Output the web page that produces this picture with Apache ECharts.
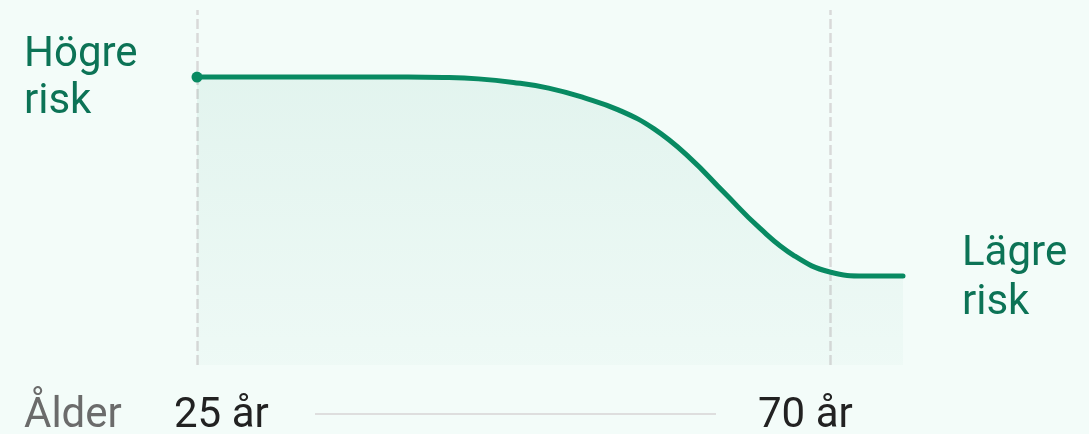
<!DOCTYPE html>
<html>
<head>
<meta charset="utf-8">
<script src="https://cdn.jsdelivr.net/npm/echarts@6/dist/echarts.min.js"></script>
<style>
html,body{margin:0;padding:0;background:#f3fcf9;}
#chart{width:1089px;height:434px;}
</style>
</head>
<body>
<div id="chart"></div>
<script>
// Data
var ages = [25, 30, 35, 40, 42.5, 45, 47.5, 50, 52.5, 55, 57.5, 60, 62.5, 65, 67.5, 70, 72.5, 75.2];
var risk = [81.1, 81.1, 81.1, 81.1, 81.0, 80.6, 79.6, 78.0, 75.3, 71.8, 66.5, 58.5, 48.5, 38.6, 30.7, 26.2, 25.1, 25.1];
var markerAges = [25, 70];
var tickLabels = ['25 år', '70 år'];
var axisTitle = 'Ålder';
var highLabel = ['Högre', 'risk'];
var lowLabel = ['Lägre', 'risk'];

var GREEN_LINE = '#088a62';
var GREEN_TEXT = '#0c7356';
var FONT = '42px Roboto';

var seriesData = ages.map(function (a, i) { return [a, risk[i]]; });

var chart = echarts.init(document.getElementById('chart'), null, {renderer: 'canvas'});

function txt(t, x, y, fill) {
  return {
    type: 'text', x: x, y: y, silent: true,
    style: {text: t, font: FONT, fill: fill, textAlign: 'left', textVerticalAlign: 'middle', verticalAlign: 'middle'}
  };
}

chart.setOption({
  backgroundColor: '#f3fcf9',
  animation: false,
  grid: {left: 197, right: 186, top: 10, bottom: 69},
  xAxis: {type: 'value', min: 25, max: 75.2, show: false},
  yAxis: {type: 'value', min: 0, max: 100, show: false},
  series: [{
    type: 'line',
    data: seriesData,
    smooth: 0.45,
    showSymbol: true,
    symbol: 'circle',
    symbolSize: function (v, p) { return p.dataIndex === 0 ? 11 : 0; },
    itemStyle: {color: GREEN_LINE},
    lineStyle: {color: GREEN_LINE, width: 5, cap: 'round'},
    areaStyle: {
      color: new echarts.graphic.LinearGradient(0, 0, 0, 1, [
        {offset: 0, color: 'rgba(8,138,98,0.10)'},
        {offset: 1, color: 'rgba(8,138,98,0.03)'}
      ]),
      origin: 'start'
    },
    markLine: {
      silent: true,
      z: 1,
      symbol: 'none',
      label: {show: false},
      lineStyle: {color: '#d9d9d9', width: 2.5, type: [10, 4]},
      data: markerAges.map(function (a) { return {xAxis: a}; })
    }
  }],
  graphic: [
    txt(highLabel[0], 24, 55, GREEN_TEXT),
    txt(highLabel[1], 24, 102, GREEN_TEXT),
    txt(lowLabel[0], 962, 254, GREEN_TEXT),
    txt(lowLabel[1], 962, 303, GREEN_TEXT),
    txt(axisTitle, 24, 416.5, '#6b6b6b'),
    txt(tickLabels[0], 174, 416.5, '#222222'),
    txt(tickLabels[1], 758, 416.5, '#222222'),
    {type: 'line', silent: true, shape: {x1: 315, y1: 414, x2: 716, y2: 414},
     style: {stroke: '#dedede', lineWidth: 2}}
  ]
});
</script>
</body>
</html>
